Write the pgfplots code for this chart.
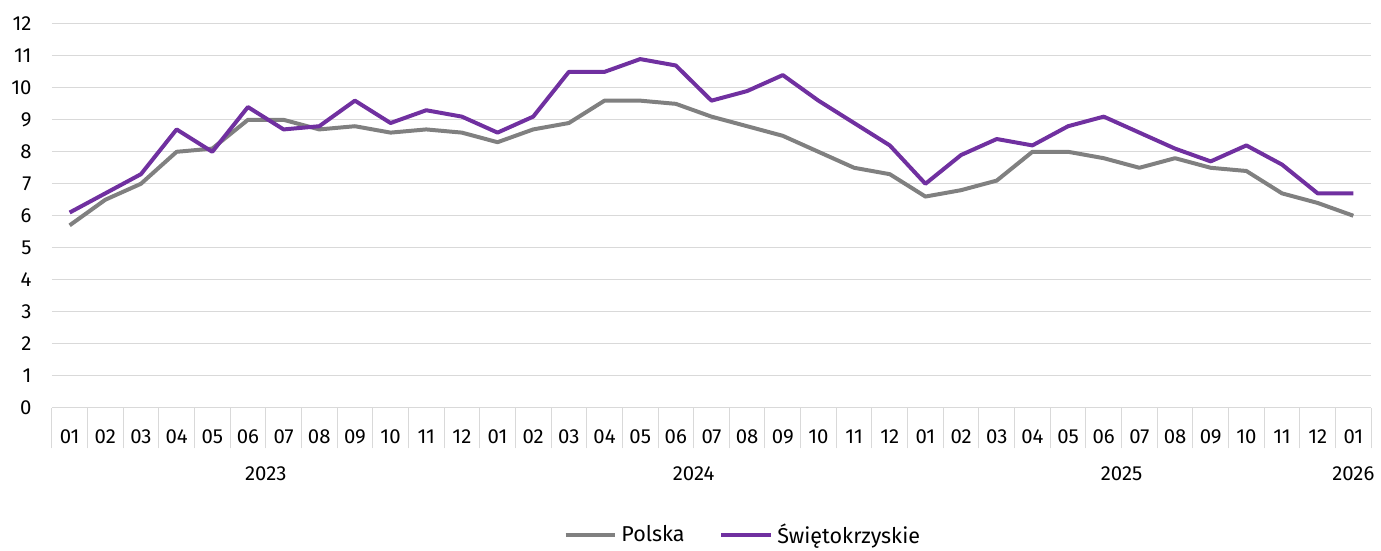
\documentclass[border=0pt]{standalone}
\usepackage{fontspec}
\setmainfont{Fira Sans}
\usepackage{pgfplots}
\pgfplotsset{compat=1.18}
\definecolor{polska}{HTML}{808080}
\definecolor{swiet}{HTML}{7030A0}
\definecolor{gridc}{HTML}{D9D9D9}

\pgfplotstableread{
x pl sw
0 5.7 6.1
1 6.5 6.7
2 7.0 7.3
3 8.0 8.7
4 8.1 8.0
5 9.0 9.4
6 9.0 8.7
7 8.7 8.8
8 8.8 9.6
9 8.6 8.9
10 8.7 9.3
11 8.6 9.1
12 8.3 8.6
13 8.7 9.1
14 8.9 10.5
15 9.6 10.5
16 9.6 10.9
17 9.5 10.7
18 9.1 9.6
19 8.8 9.9
20 8.5 10.4
21 8.0 9.6
22 7.5 8.9
23 7.3 8.2
24 6.6 7.0
25 6.8 7.9
26 7.1 8.4
27 8.0 8.2
28 8.0 8.8
29 7.8 9.1
30 7.5 8.6
31 7.8 8.1
32 7.5 7.7
33 7.4 8.2
34 6.7 7.6
35 6.4 6.7
36 6.0 6.7
}\datatable

\begin{document}
\begin{tikzpicture}
\begin{axis}[
  at={(0,0)}, anchor=south west,
  scale only axis,
  width=662pt, height=192.5pt,
  xmin=-0.5, xmax=36.5,
  ymin=0, ymax=12,
  ytick={0,...,12},
  xtick={0,...,36},
  xticklabels={01,02,03,04,05,06,07,08,09,10,11,12,01,02,03,04,05,06,07,08,09,10,11,12,01,02,03,04,05,06,07,08,09,10,11,12,01},
  minor xtick={-0.5,0.5,...,36.5},
  extra x ticks={-0.5,11.5,23.5,35.5,36.5},
  extra x tick labels={},
  extra x tick style={major tick length=41pt, tick style={draw=gridc, line width=0.5pt}, grid=none},
  minor tick length=20.5pt,
  major tick length=0pt,
  tick align=outside,
  xtick pos=bottom,
  ytick style={draw=none},
  xtick style={draw=none},
  minor x tick style={draw=gridc, line width=0.5pt},
  ymajorgrids,
  grid style={draw=gridc, line width=0.5pt},
  axis x line*=bottom,
  axis y line*=left,
  x axis line style={draw=gridc, line width=0.5pt, -},
  y axis line style={draw=none},
  tick label style={font=\fontsize{10.2}{12}\selectfont},
  /pgf/number format/assume math mode=true,
  yticklabel style={anchor=east, inner sep=0pt, xshift=-10pt},
  xticklabel style={anchor=base, inner sep=0pt, yshift=-18pt},
  clip=false,
  legend columns=2,
  legend style={draw=none, at={(0.5245,-0.332)}, anchor=center,
    font=\fontsize{10.8}{12}\selectfont,
    /tikz/every even column/.append style={column sep=15.5pt},
    inner sep=0pt},
  legend cell align=left,
  legend image code/.code={\draw[#1] (0pt,0pt) -- (25pt,0pt);},
]
\addplot[polska, line width=2pt, line join=round] table[x=x, y=pl] {\datatable};
\addlegendentry{Polska}
\addplot[swiet, line width=2pt, line join=round] table[x=x, y=sw] {\datatable};
\addlegendentry{Świętokrzyskie}
\node[anchor=base, font=\fontsize{10.2}{12}\selectfont] at ([yshift=-36.5pt]axis cs:5.5,0) {2023};
\node[anchor=base, font=\fontsize{10.2}{12}\selectfont] at ([yshift=-36.5pt]axis cs:17.5,0) {2024};
\node[anchor=base, font=\fontsize{10.2}{12}\selectfont] at ([yshift=-36.5pt]axis cs:29.5,0) {2025};
\node[anchor=base, font=\fontsize{10.2}{12}\selectfont] at ([yshift=-36.5pt]axis cs:36,0) {2026};
\end{axis}
\path (-26pt,-69pt) rectangle (664.5pt,204.5pt);
\end{tikzpicture}
\end{document}
